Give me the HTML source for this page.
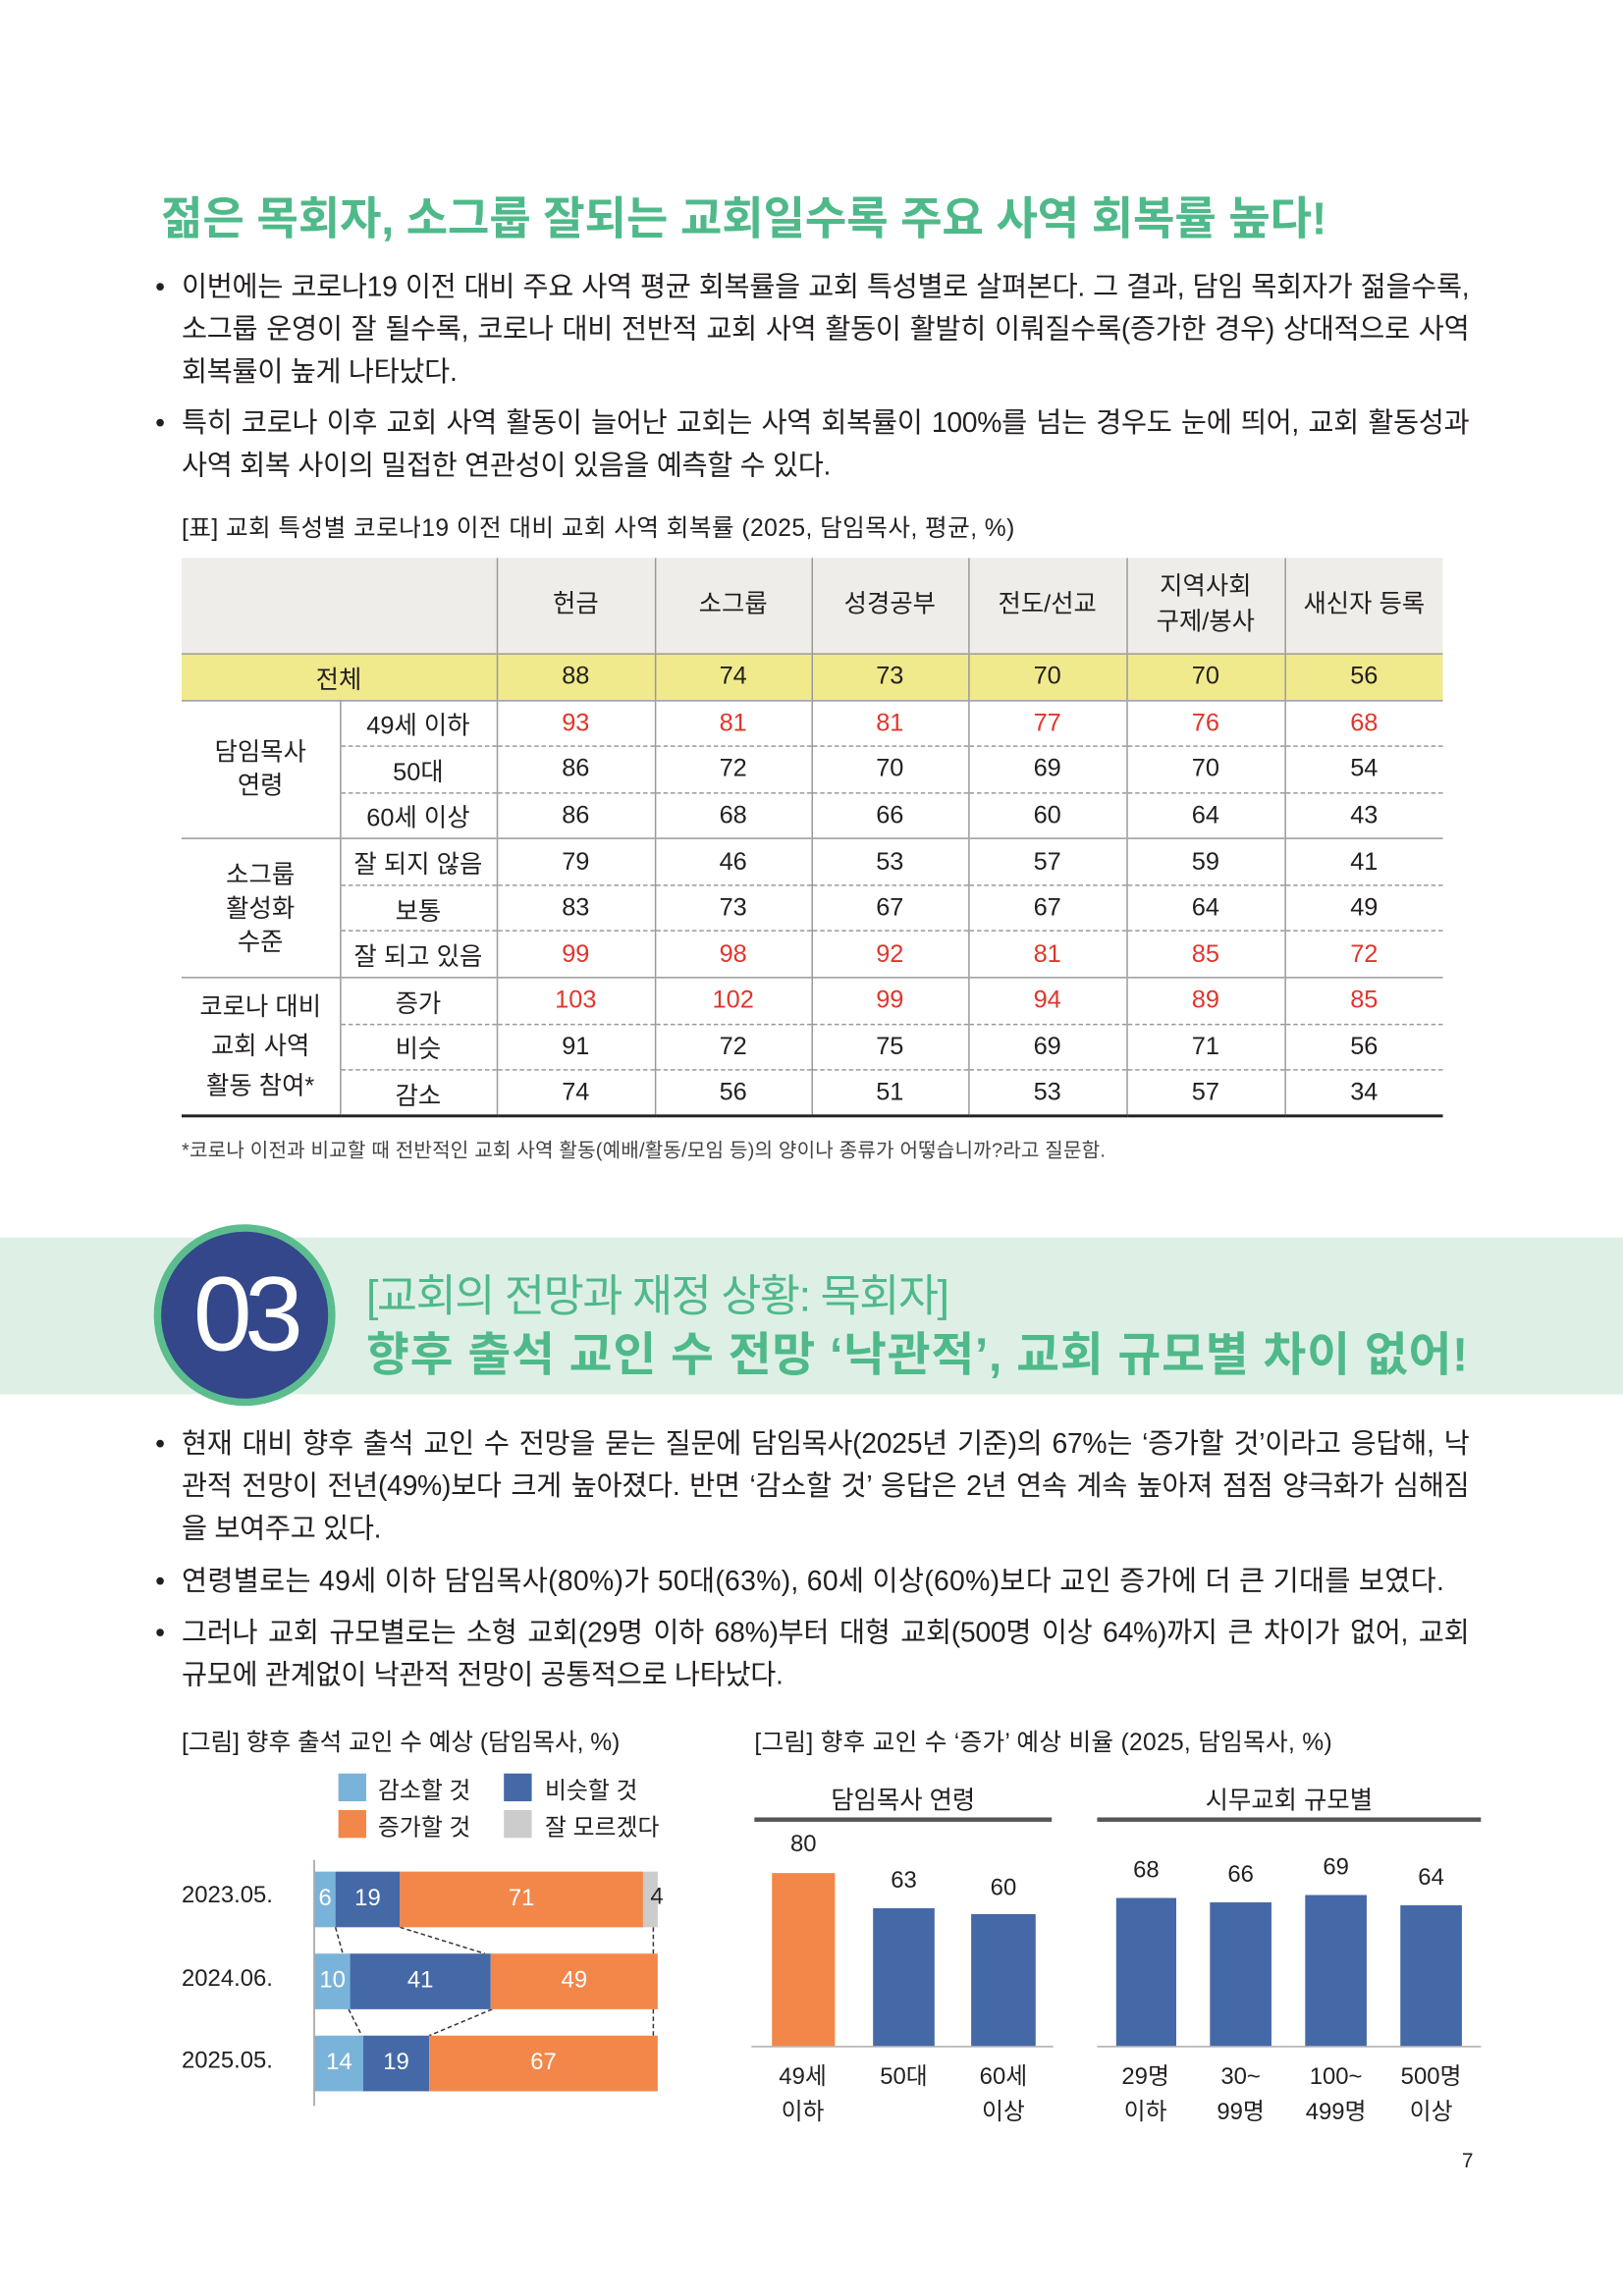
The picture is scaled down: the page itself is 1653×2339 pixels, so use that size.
<!DOCTYPE html>
<html><head><meta charset="utf-8"><style>
*{margin:0;padding:0;box-sizing:border-box}
html,body{width:1653px;height:2339px;overflow:hidden;background:#fff}
#w{position:absolute;left:0;top:0;width:1108px;height:1568px;transform:scale(1.4919);transform-origin:0 0;font-family:"Liberation Sans","Noto Sans CJK KR",sans-serif;color:#231f20}
.a{position:absolute;white-space:nowrap}
.t{font-size:19px;letter-spacing:-0.2px;line-height:29px}
.p{position:absolute;left:124px;width:879px;font-size:19px;letter-spacing:-0.2px;line-height:29px}
.p span{display:block;white-space:nowrap;text-align:justify;text-align-last:justify}
.p span.l{text-align-last:left}
.g{color:#4fb98a;font-weight:bold}
table{position:absolute;left:124px;top:381px;border-collapse:collapse;font-size:17px}
td{text-align:center;height:31.6px;border-left:1px solid #999;border-top:1px dashed #999;padding:0}
td:first-child{border-left:none}
.h td{height:65px;background:#efedea;border-top:none;line-height:24px}
.y td{background:#f0ea8c;border-top:1px solid #999;border-bottom:1px solid #999;height:32px}
.s td{border-top:1px solid #999}
.r{color:#e0362c}
.bot td{border-bottom:2px solid #222}
.bar{position:absolute;color:#fff;font-size:16px;text-align:center}
.cap{font-size:16.5px;letter-spacing:0px}
</style></head><body><div id="w">
<div class="a g" style="left:110px;top:124px;font-size:31px;letter-spacing:-0.15px">젊은 목회자, 소그룹 잘되는 교회일수록 주요 사역 회복률 높다!</div>
<div class="a t" style="left:106px;top:182px">•</div>
<div class="p" style="top:182px"><span>이번에는 코로나19 이전 대비 주요 사역 평균 회복률을 교회 특성별로 살펴본다. 그 결과, 담임 목회자가 젊을수록,</span><span>소그룹 운영이 잘 될수록, 코로나 대비 전반적 교회 사역 활동이 활발히 이뤄질수록(증가한 경우) 상대적으로 사역</span><span class="l">회복률이 높게 나타났다.</span></div>
<div class="a t" style="left:106px;top:275px">•</div>
<div class="p" style="top:275px"><span>특히 코로나 이후 교회 사역 활동이 늘어난 교회는 사역 회복률이 100%를 넘는 경우도 눈에 띄어, 교회 활동성과</span><span class="l">사역 회복 사이의 밀접한 연관성이 있음을 예측할 수 있다.</span></div>
<div class="a cap" style="left:124px;top:347px;letter-spacing:0.3px">[표] 교회 특성별 코로나19 이전 대비 교회 사역 회복률 (2025, 담임목사, 평균, %)</div>
<table>
<colgroup><col style="width:108px"><col style="width:107px"><col style="width:108px"><col style="width:107px"><col style="width:107px"><col style="width:108px"><col style="width:108px"><col style="width:108px"></colgroup>
<tr class="h"><td colspan="2"></td><td>헌금</td><td>소그룹</td><td>성경공부</td><td>전도/선교</td><td>지역사회<br>구제/봉사</td><td>새신자 등록</td></tr>
<tr class="y"><td colspan="2">전체</td><td>88</td><td>74</td><td>73</td><td>70</td><td>70</td><td>56</td></tr>
<tr class="s"><td rowspan="3" style="border-top:1px solid #999;line-height:23px">담임목사<br>연령</td><td>49세 이하</td><td class="r">93</td><td class="r">81</td><td class="r">81</td><td class="r">77</td><td class="r">76</td><td class="r">68</td></tr>
<tr><td style="border-left:1px solid #999">50대</td><td>86</td><td>72</td><td>70</td><td>69</td><td>70</td><td>54</td></tr>
<tr><td style="border-left:1px solid #999">60세 이상</td><td>86</td><td>68</td><td>66</td><td>60</td><td>64</td><td>43</td></tr>
<tr class="s"><td rowspan="3" style="line-height:23px">소그룹<br>활성화<br>수준</td><td>잘 되지 않음</td><td>79</td><td>46</td><td>53</td><td>57</td><td>59</td><td>41</td></tr>
<tr><td style="border-left:1px solid #999">보통</td><td>83</td><td>73</td><td>67</td><td>67</td><td>64</td><td>49</td></tr>
<tr><td style="border-left:1px solid #999">잘 되고 있음</td><td class="r">99</td><td class="r">98</td><td class="r">92</td><td class="r">81</td><td class="r">85</td><td class="r">72</td></tr>
<tr class="s"><td rowspan="3" style="line-height:27px;border-bottom:2px solid #222">코로나 대비<br>교회 사역<br>활동 참여*</td><td>증가</td><td class="r">103</td><td class="r">102</td><td class="r">99</td><td class="r">94</td><td class="r">89</td><td class="r">85</td></tr>
<tr><td style="border-left:1px solid #999">비슷</td><td>91</td><td>72</td><td>75</td><td>69</td><td>71</td><td>56</td></tr>
<tr class="bot"><td style="border-left:1px solid #999">감소</td><td>74</td><td>56</td><td>51</td><td>53</td><td>57</td><td>34</td></tr>
</table>
<div class="a" style="left:124px;top:774px;font-size:13.5px;letter-spacing:0.1px;color:#444">*코로나 이전과 비교할 때 전반적인 교회 사역 활동(예배/활동/모임 등)의 양이나 종류가 어떻습니까?라고 질문함.</div>
<div class="a" style="left:0;top:845px;width:1108px;height:107px;background:#deefe6"></div>
<div class="a" style="left:105px;top:836px;width:124px;height:124px;border-radius:50%;background:#33478a;border:5px solid #5bbd8e"></div>
<div class="a" style="left:105px;top:858px;width:124px;text-align:center;color:#fff;font-size:72px;letter-spacing:-5px;line-height:80px">03</div>
<div class="a" style="left:250px;top:860px;font-size:30px;color:#4fb98a;letter-spacing:-1px">[교회의 전망과 재정 상황: 목회자]</div>
<div class="a g" style="left:250px;top:900px;font-size:32px;letter-spacing:0.5px">향후 출석 교인 수 전망 ‘낙관적’, 교회 규모별 차이 없어!</div>
<div class="a t" style="left:106px;top:972px">•</div>
<div class="p" style="top:972px"><span>현재 대비 향후 출석 교인 수 전망을 묻는 질문에 담임목사(2025년 기준)의 67%는 ‘증가할 것’이라고 응답해, 낙</span><span>관적 전망이 전년(49%)보다 크게 높아졌다. 반면 ‘감소할 것’ 응답은 2년 연속 계속 높아져 점점 양극화가 심해짐</span><span class="l">을 보여주고 있다.</span></div>
<div class="a t" style="left:106px;top:1066px">•</div>
<div class="a t" style="left:124px;top:1066px;letter-spacing:0.2px">연령별로는 49세 이하 담임목사(80%)가 50대(63%), 60세 이상(60%)보다 교인 증가에 더 큰 기대를 보였다.</div>
<div class="a t" style="left:106px;top:1101px">•</div>
<div class="p" style="top:1101px"><span>그러나 교회 규모별로는 소형 교회(29명 이하 68%)부터 대형 교회(500명 이상 64%)까지 큰 차이가 없어, 교회</span><span class="l">규모에 관계없이 낙관적 전망이 공통적으로 나타났다.</span></div>
<div class="a cap" style="left:124px;top:1176px">[그림] 향후 출석 교인 수 예상 (담임목사, %)</div>
<div class="a cap" style="left:515px;top:1176px;letter-spacing:0.2px">[그림] 향후 교인 수 ‘증가’ 예상 비율 (2025, 담임목사, %)</div>
<div class="a" style="left:231px;top:1211px;width:19px;height:19px;background:#7ab3da"></div><div class="a" style="left:258px;top:1209px;font-size:16px">감소할 것</div>
<div class="a" style="left:344px;top:1211px;width:19px;height:19px;background:#4569a6"></div><div class="a" style="left:372px;top:1209px;font-size:16px">비슷할 것</div>
<div class="a" style="left:231px;top:1236px;width:19px;height:19px;background:#f3874a"></div><div class="a" style="left:258px;top:1234px;font-size:16px">증가할 것</div>
<div class="a" style="left:344px;top:1236px;width:19px;height:19px;background:#cccccc"></div><div class="a" style="left:372px;top:1234px;font-size:16px">잘 모르겠다</div>
<div class="a" style="left:214px;top:1270px;width:1px;height:168px;background:#999"></div>
<div class="a" style="left:124px;top:1286px;font-size:16px">2023.05.</div>
<div class="a" style="left:124px;top:1343px;font-size:16px">2024.06.</div>
<div class="a" style="left:124px;top:1399px;font-size:16px">2025.05.</div>
<svg class="a" style="left:0;top:0" width="1108" height="1568"><g stroke="#333" stroke-dasharray="3,2" fill="none">
<line x1="229" y1="1316" x2="234" y2="1334"/><line x1="273" y1="1316" x2="331" y2="1334"/><line x1="446" y1="1316" x2="446" y2="1334"/>
<line x1="238" y1="1372" x2="247" y2="1390"/><line x1="336" y1="1372" x2="293" y2="1390"/><line x1="446" y1="1372" x2="446" y2="1390"/></g></svg>
<div class="bar" style="left:215px;top:1278px;width:14px;height:38px;line-height:38px;background:#7ab3da">6</div>
<div class="bar" style="left:229px;top:1278px;width:44px;height:38px;line-height:38px;background:#4569a6">19</div>
<div class="bar" style="left:273px;top:1278px;width:166px;height:38px;line-height:38px;background:#f3874a">71</div>
<div class="bar" style="left:439px;top:1278px;width:10px;height:38px;background:#ccc"></div>
<div class="a" style="left:444px;top:1287px;font-size:16px">4</div>
<div class="bar" style="left:215px;top:1334px;width:24px;height:38px;line-height:38px;background:#7ab3da">10</div>
<div class="bar" style="left:239px;top:1334px;width:96px;height:38px;line-height:38px;background:#4569a6">41</div>
<div class="bar" style="left:335px;top:1334px;width:114px;height:38px;line-height:38px;background:#f3874a">49</div>
<div class="bar" style="left:215px;top:1390px;width:33px;height:38px;line-height:38px;background:#7ab3da">14</div>
<div class="bar" style="left:248px;top:1390px;width:45px;height:38px;line-height:38px;background:#4569a6">19</div>
<div class="bar" style="left:293px;top:1390px;width:156px;height:38px;line-height:38px;background:#f3874a">67</div>
<div class="a" style="left:515px;top:1215px;width:203px;text-align:center;font-size:17px">담임목사 연령</div>
<div class="a" style="left:749px;top:1215px;width:262px;text-align:center;font-size:17px">시무교회 규모별</div>
<div class="a" style="left:515px;top:1241px;width:203px;height:3px;background:#555"></div>
<div class="a" style="left:749px;top:1241px;width:262px;height:3px;background:#555"></div>
<div class="a" style="left:513px;top:1397px;width:206px;height:1px;background:#aaa"></div>
<div class="a" style="left:749px;top:1397px;width:262px;height:1px;background:#aaa"></div>
<div class="a" style="left:527px;top:1279px;width:43px;height:118px;background:#f3874a"></div>
<div class="a" style="left:596px;top:1303px;width:42px;height:94px;background:#4569a6"></div>
<div class="a" style="left:663px;top:1307px;width:44px;height:90px;background:#4569a6"></div>
<div class="a" style="left:762px;top:1296px;width:41px;height:101px;background:#4569a6"></div>
<div class="a" style="left:826px;top:1299px;width:42px;height:98px;background:#4569a6"></div>
<div class="a" style="left:891px;top:1294px;width:42px;height:103px;background:#4569a6"></div>
<div class="a" style="left:956px;top:1301px;width:42px;height:96px;background:#4569a6"></div>
<div class="a" style="left:527px;top:1251px;width:43px;text-align:center;font-size:16px">80</div>
<div class="a" style="left:596px;top:1276px;width:42px;text-align:center;font-size:16px">63</div>
<div class="a" style="left:663px;top:1281px;width:44px;text-align:center;font-size:16px">60</div>
<div class="a" style="left:762px;top:1269px;width:41px;text-align:center;font-size:16px">68</div>
<div class="a" style="left:826px;top:1272px;width:42px;text-align:center;font-size:16px">66</div>
<div class="a" style="left:891px;top:1267px;width:42px;text-align:center;font-size:16px">69</div>
<div class="a" style="left:956px;top:1274px;width:42px;text-align:center;font-size:16px">64</div>
<div class="a" style="left:518px;top:1407px;width:60px;text-align:center;font-size:16px;line-height:24px">49세<br>이하</div>
<div class="a" style="left:587px;top:1407px;width:60px;text-align:center;font-size:16px;line-height:24px">50대</div>
<div class="a" style="left:655px;top:1407px;width:60px;text-align:center;font-size:16px;line-height:24px">60세<br>이상</div>
<div class="a" style="left:752px;top:1407px;width:60px;text-align:center;font-size:16px;line-height:24px">29명<br>이하</div>
<div class="a" style="left:817px;top:1407px;width:60px;text-align:center;font-size:16px;line-height:24px">30~<br>99명</div>
<div class="a" style="left:882px;top:1407px;width:60px;text-align:center;font-size:16px;line-height:24px">100~<br>499명</div>
<div class="a" style="left:947px;top:1407px;width:60px;text-align:center;font-size:16px;line-height:24px">500명<br>이상</div>
<div class="a" style="left:998px;top:1467px;font-size:14px">7</div>
</div></body></html>
